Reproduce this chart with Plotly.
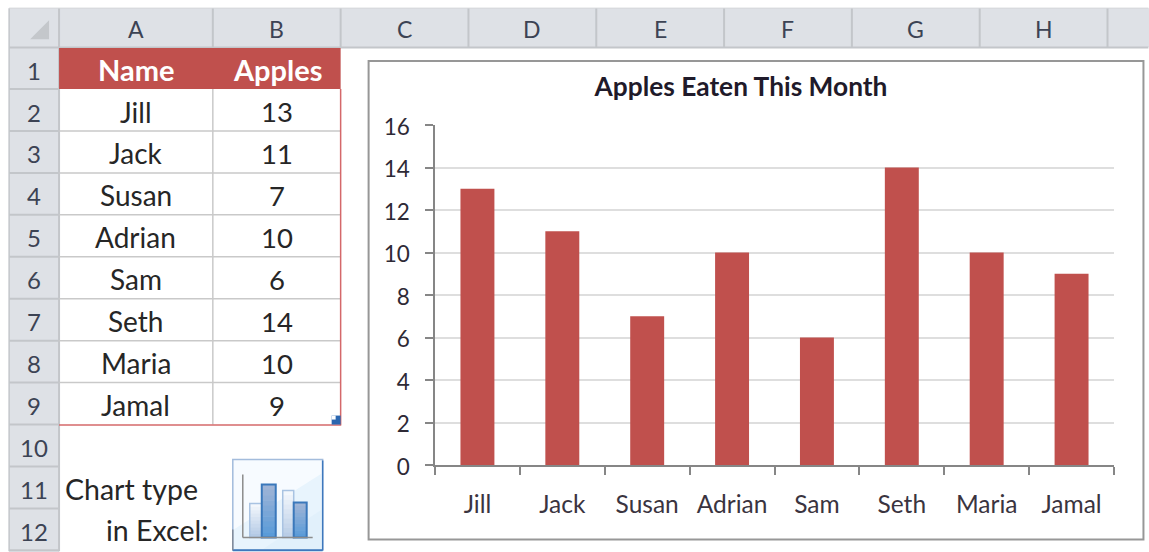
import plotly.graph_objects as go

names = ["Jill", "Jack", "Susan", "Adrian", "Sam", "Seth", "Maria", "Jamal"]
apples = [13, 11, 7, 10, 6, 14, 10, 9]
column_letters = ["A", "B", "C", "D", "E", "F", "G", "H"]
row_numbers = list(range(1, 13))
table_headers = ["Name", "Apples"]
chart_title = "Apples Eaten This Month"
y_ticks = [0, 2, 4, 6, 8, 10, 12, 14, 16]

W, H = 1149, 552
L, R, T, B = 434.5, 1114.5, 125, 465.5
FONT = "Lato, Carlito, Calibri, sans-serif"
RED = "#c0504d"
HEAD = "#dee1e6"
SEP = "#c3c6ca"
GRID = "#c9c9c9"
INK = "#262626"
ROWINK = "#3c4354"


def px(x):
    return (x - L) / (R - L)


def py(y):
    return (B - y) / (B - T)


shapes = []
annots = []


def rect(x0, y0, x1, y1, fill=None, line=None, lw=1):
    shapes.append(dict(type="rect", xref="paper", yref="paper", layer="below",
                       x0=px(x0), x1=px(x1), y0=py(y0), y1=py(y1),
                       fillcolor=fill or "rgba(0,0,0,0)",
                       line=dict(color=line or "rgba(0,0,0,0)", width=lw if line else 0)))


def seg(x0, y0, x1, y1, color, lw=1):
    shapes.append(dict(type="line", xref="paper", yref="paper", layer="below",
                       x0=px(x0), x1=px(x1), y0=py(y0), y1=py(y1),
                       line=dict(color=color, width=lw)))


def poly(points, fill):
    d = "M " + " L ".join(f"{px(a):.5f},{py(b):.5f}" for a, b in points) + " Z"
    shapes.append(dict(type="path", xref="paper", yref="paper", layer="below", path=d,
                       fillcolor=fill, line=dict(width=0)))


def text(x, y, s, size, color=INK, anchor="center", bold=False):
    annots.append(dict(xref="paper", yref="paper", x=px(x), y=py(y), text=f"<b>{s}</b>" if bold else s,
                       showarrow=False, xanchor=anchor, yanchor="middle",
                       font=dict(family=FONT, size=size, color=color),
                       borderpad=0, borderwidth=0))


def mix(a, b, t):
    ca = [int(a[i:i + 2], 16) for i in (1, 3, 5)]
    cb = [int(b[i:i + 2], 16) for i in (1, 3, 5)]
    return "#" + "".join(f"{round(p + (q - p) * t):02x}" for p, q in zip(ca, cb))


# sheet headers
rect(8, 8, W + 2, 47, HEAD)
rect(8, 47, 58, H + 2, HEAD)
seg(8, 47.5, W, 47.5, SEP, 2)
seg(58, 8, 58, H, SEP, 2)
col_edges = [58, 212, 340, 468, 596, 724, 852, 980, 1108]
for x in col_edges[1:]:
    seg(x, 8, x, 47, SEP, 2)
for i, letter in enumerate(column_letters):
    text((col_edges[i] + col_edges[i + 1]) / 2, 29, letter, 23, ROWINK)
seg(8, 8, 8, H, SEP, 1.5)
seg(8, 8, W, 8, "#d0d3d7", 1)
poly([(48, 20), (48, 39), (29, 39)], "#c4c7cb")

row_top = 47
row_h = 42
for i, n in enumerate(row_numbers):
    y = row_top + row_h * i
    text(33, y + row_h / 2 + 2, str(n), 24, ROWINK)
    seg(8, y + row_h, 58, y + row_h, SEP, 2)

# table
rect(58, 48, 340, 89, RED)
text(135, 69, table_headers[0], 29, "#ffffff", bold=True)
text(277, 69, table_headers[1], 29, "#ffffff", bold=True)
for i, (name, val) in enumerate(zip(names, apples)):
    y0 = 89 + row_h * i
    if i < len(names) - 1:
        seg(58, y0 + row_h, 340, y0 + row_h, GRID, 1.5)
    text(135, y0 + 22.5, name, 28)
    text(276, y0 + 22.5, str(val), 27.5)
seg(212, 89, 212, 425, GRID, 1.5)
seg(340, 89, 340, 426, "#d4686a", 1.5)
seg(58, 425.5, 340, 425.5, "#d4686a", 1.5)
rect(331, 416, 340, 425, "#2a66b0")
poly([(331, 416), (335, 416), (335, 420), (331, 420)], "#ffffff")

# chart-type note
text(64, 490, "Chart type", 28.5, INK, "left")
text(207, 531, "in Excel:", 28.5, INK, "right")

# chart-type icon
rect(232, 460, 322, 551, "#f7fbff", "#a3bcdc", 1.5)
poly([(321, 474), (321, 550), (233, 550), (233, 530)], "#e8f4fd")
poly([(233, 550), (321, 550), (321, 510), (262, 550)], "#e1f0fb")
seg(322, 461, 322, 551, "#3d78bd", 1.5)
seg(232, 551, 322, 551, "#3d78bd", 2)
seg(232, 530, 232, 551, "#7f8a99", 1.5)
BANDS = 10
for x0, x1, top, c1, c2, edge, w in [
    (249, 261, 504, "#f3f7fc", "#b4cae5", "#a9c3e2", 1.5),
    (261, 275, 485, "#9fb4d6", "#5a9bd8", "#3a78bb", 2),
    (282, 293, 491, "#f3f7fc", "#b9cde6", "#a9c3e2", 1.5),
    (293, 306, 503, "#9fb4d6", "#5a9bd8", "#3a78bb", 2),
]:
    step = (538 - top) / BANDS
    for k in range(BANDS):
        rect(x0, top + k * step, x1, top + (k + 1) * step + 0.5, mix(c1, c2, k / (BANDS - 1)))
    rect(x0, top, x1, 538, None, edge, w)
seg(242, 475, 242, 538, "#8c8c8c", 1.5)
seg(242, 538, 312, 538, "#8c8c8c", 1.5)

# chart frame
rect(368, 61, 1144, 540, "#ffffff", "#979797", 2)

fig = go.Figure(go.Bar(x=names, y=apples, marker=dict(color=RED, line=dict(width=0)), width=0.4))
fig.update_layout(
    width=W, height=H, autosize=False,
    margin=dict(l=L, r=W - R, t=T, b=H - B, pad=0, autoexpand=False),
    paper_bgcolor="#ffffff", plot_bgcolor="rgba(0,0,0,0)",
    showlegend=False,
    title=dict(text=f"<b>{chart_title}</b>", x=741 / W, xanchor="center", y=1 - 87 / H, yanchor="middle",
               font=dict(family=FONT, size=26.3, color="#1f1a2a")),
    xaxis=dict(type="category", categoryorder="array", categoryarray=names,
               range=[-0.5, 7.5], tickson="boundaries", ticks="outside", ticklen=8, tickwidth=1.5,
               tickcolor="#868686", showline=True, linecolor="#868686", linewidth=1.5,
               showgrid=False, zeroline=False, ticklabelstandoff=17,
               tickfont=dict(family=FONT, size=24.5, color="#3a3440")),
    yaxis=dict(range=[0, 16], tickmode="array", tickvals=y_ticks, ticks="outside", ticklen=8, tickwidth=1.5,
               tickcolor="#868686", showline=True, linecolor="#868686", linewidth=1.5,
               showgrid=True, gridcolor="#dedede", gridwidth=1.5, zeroline=False,
               ticklabelstandoff=11, ticklabelshift=2,
               tickfont=dict(family=FONT, size=22.5, color="#2e2a36")),
    shapes=shapes, annotations=annots, bargap=0.6,
)
fig.write_html("out.html", config={"displayModeBar": False},
               post_script="document.body.style.margin='0';document.body.style.overflow='hidden';")
